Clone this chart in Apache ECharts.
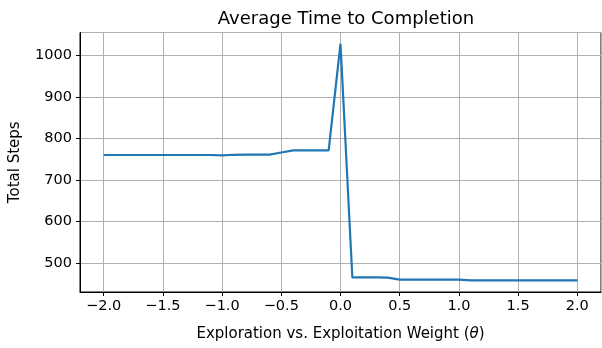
<!DOCTYPE html>
<html>
<head>
<meta charset="utf-8">
<script src="https://cdn.jsdelivr.net/npm/echarts@6/dist/echarts.min.js"></script>
<style>
  html, body { margin: 0; padding: 0; background: #fff; }
  #chart { width: 602px; height: 348px; }
</style>
</head>
<body>
<div id="chart"></div>
<script>
// Exploration/exploitation weight sweep and the mean number of steps per run
const theta = [-2.0, -1.9, -1.8, -1.7, -1.6, -1.5, -1.4, -1.3, -1.2, -1.1,
               -1.0, -0.9, -0.8, -0.7, -0.6, -0.5, -0.4, -0.3, -0.2, -0.1,
                0.0,  0.1,  0.2,  0.3,  0.4,  0.5,  0.6,  0.7,  0.8,  0.9,
                1.0,  1.1,  1.2,  1.3,  1.4,  1.5,  1.6,  1.7,  1.8,  1.9, 2.0];
const totalSteps = [760, 760, 760, 760, 760, 760, 760, 760, 760, 760,
                    759, 760.5, 761, 761, 761, 766, 771, 771, 771, 771,
                    1028, 465, 465, 465, 464.5, 460, 460, 460, 460, 460,
                    460, 458, 458, 458, 458, 458, 458, 458, 458, 458, 458];

const fmtNum = v => v.toFixed(1).replace('-', '\u2212');
const FONT = 'DejaVu Sans';

const chart = echarts.init(document.getElementById('chart'), null, { renderer: 'canvas' });
chart.setOption({
  animation: false,
  backgroundColor: '#ffffff',
  title: {
    text: 'Average Time to Completion',
    left: 341, top: 5, textAlign: 'center',
    textStyle: { fontFamily: FONT, fontSize: 18, fontWeight: 'normal', color: '#000' }
  },
  grid: {
    left: 79, right: 1, top: 32.5, bottom: 56,
    show: true, borderColor: '#000', borderWidth: 1, backgroundColor: 'transparent'
  },
  xAxis: {
    type: 'value', min: -2.2, max: 2.2, splitNumber: 8,
    name: '{n|Exploration vs. Exploitation Weight (}{i|\u03b8}{n|)}',
    nameLocation: 'middle', nameGap: 35,
    nameTextStyle: {
      rich: {
        n: { fontFamily: FONT, fontSize: 15, color: '#000' },
        i: { fontFamily: FONT, fontSize: 15, fontStyle: 'italic', color: '#000' }
      }
    },
    axisLine: { show: true, onZero: false, lineStyle: { color: '#000', width: 1 } },
    axisTick: { show: true, inside: false, length: 4, lineStyle: { color: '#000' } },
    axisLabel: {
      fontFamily: FONT, fontSize: 14.5, color: '#000', margin: 7,
      showMinLabel: false, showMaxLabel: false,
      formatter: v => fmtNum(v)
    },
    splitLine: { show: true, lineStyle: { color: '#b0b0b0', width: 1 } }
  },
  yAxis: {
    type: 'value', min: 430, max: 1055,
    name: 'Total Steps', nameLocation: 'middle', nameGap: 57,
    nameTextStyle: { fontFamily: FONT, fontSize: 15, color: '#000' },
    axisLine: { show: true, onZero: false, lineStyle: { color: '#000', width: 1 } },
    axisTick: { show: true, inside: false, length: 4, lineStyle: { color: '#000' } },
    axisLabel: {
      fontFamily: FONT, fontSize: 14.5, color: '#000', margin: 8,
      showMinLabel: false, showMaxLabel: false,
      formatter: v => String(v)
    },
    splitLine: { show: true, lineStyle: { color: '#b0b0b0', width: 1 } }
  },
  series: [{
    type: 'line',
    data: theta.map((t, i) => [t, totalSteps[i]]),
    showSymbol: false,
    lineStyle: { color: '#1f77b4', width: 2.2 },
    itemStyle: { color: '#1f77b4' }
  }]
});
</script>
</body>
</html>
